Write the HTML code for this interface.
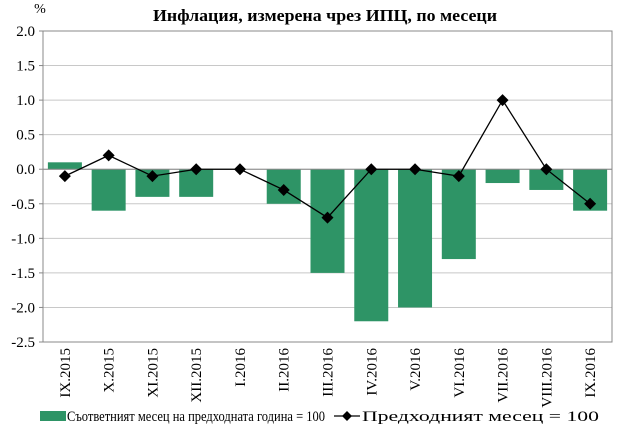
<!DOCTYPE html>
<html><head><meta charset="utf-8"><style>
body{margin:0;background:#fff;}
svg text{font-family:"Liberation Serif",serif;}
</style></head><body>
<svg width="620" height="434">
<g id="g"></g>
</svg>
<script>
const categories=["IX.2015","X.2015","XI.2015","XII.2015","I.2016","II.2016","III.2016","IV.2016","V.2016","VI.2016","VII.2016","VIII.2016","IX.2016"];
const barValues=[0.1,-0.6,-0.4,-0.4,0,-0.5,-1.5,-2.2,-2.0,-1.3,-0.2,-0.3,-0.6];
const lineValues=[-0.1,0.2,-0.1,0,0,-0.3,-0.7,0,0,-0.1,1.0,0,-0.5];
const yTicks=["2.0","1.5","1.0","0.5","0.0","-0.5","-1.0","-1.5","-2.0","-2.5"];
const NS="http://www.w3.org/2000/svg";
const g=document.getElementById('g');
const L=43,R=612,T=31,B=342,yMin=-2.5,yMax=2.0;
const y=v=>T+(yMax-v)/(yMax-yMin)*(B-T);
const bw=(R-L)/categories.length;
const x=i=>L+bw*(i+0.5);
function el(t,a,p){const e=document.createElementNS(NS,t);for(const k in a)e.setAttribute(k,a[k]);(p||g).appendChild(e);return e;}
let e;
e=el('text',{x:153,y:21,'font-size':'17','font-weight':'bold',textLength:344,lengthAdjust:'spacingAndGlyphs'});e.textContent="Инфлация, измерена чрез ИПЦ, по месеци";


e=el('text',{x:40,y:13,'text-anchor':'middle','font-size':'14'});e.textContent="%";


yTicks.forEach(t=>{const v=parseFloat(t);
 if(v!==yMin){const l=el('line',{x1:L,x2:R,y1:y(v),y2:y(v),stroke:'#c8c8c8','stroke-width':1});
 
 }
 const tk=el('line',{x1:L-4,x2:L,y1:y(v),y2:y(v),stroke:'#888'});
 const tx=el('text',{x:L-8,y:y(v)+5,'text-anchor':'end','font-size':'15'});tx.textContent=t;
 
 
});
e=el('rect',{x:L,y:T,width:R-L,height:B-T,fill:'none',stroke:'#888'});


barValues.forEach((v,i)=>{const b=el('rect',{x:x(i)-17,width:34,y:Math.min(y(v),y(0)),height:Math.abs(y(v)-y(0)),fill:'#2e9466'});
 
 });
e=el('line',{x1:L,x2:R,y1:y(0),y2:y(0),stroke:'#888'});


categories.forEach((c,i)=>{const tx=el('text',{transform:`translate(${x(i)+5},348) rotate(-90)`,'text-anchor':'end','font-size':'15'});tx.textContent=c;
 
 });
e=el('polyline',{points:lineValues.map((v,i)=>x(i)+','+y(v)).join(' '),fill:'none',stroke:'#000','stroke-width':1.3});


lineValues.forEach((v,i)=>{const px=x(i),py=y(v);const m=el('polygon',{points:`${px},${py-6} ${px+6},${py} ${px},${py+6} ${px-6},${py}`,fill:'#000'});
 
 });
e=el('rect',{x:40,y:411,width:26,height:10,fill:'#2e9466'});


e=el('text',{x:67,y:421,'font-size':'15',textLength:258,lengthAdjust:'spacingAndGlyphs'});e.textContent="Съответният месец на предходната година = 100";


e=el('line',{x1:334,x2:360,y1:416,y2:416,stroke:'#000','stroke-width':1.3});


e=el('polygon',{points:'347,411 352,416 347,421 342,416',fill:'#000'});


e=el('text',{x:362,y:421,'font-size':'15',textLength:237,lengthAdjust:'spacingAndGlyphs'});e.textContent="Предходният месец = 100";


</script>
</body></html>
